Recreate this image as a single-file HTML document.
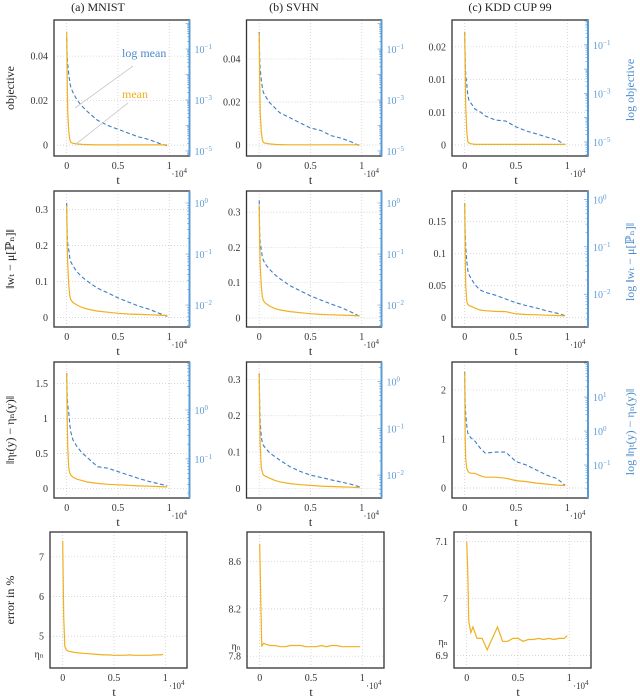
<!DOCTYPE html>
<html><head><meta charset="utf-8">
<style>
html,body{margin:0;padding:0;background:#fff;}
svg{display:block;font-family:"Liberation Serif","DejaVu Serif",serif;}
</style></head>
<body>
<svg id="fig" width="640" height="697" viewBox="0 0 640 697" xmlns="http://www.w3.org/2000/svg">
<text x="98" y="11" font-size="12" text-anchor="middle" fill="#222">(a) MNIST</text>
<text x="294" y="11" font-size="12" text-anchor="middle" fill="#222">(b) SVHN</text>
<text x="510" y="11" font-size="12" text-anchor="middle" fill="#222">(c) KDD CUP 99</text>
<text transform="translate(14,88) rotate(-90)" font-size="12" text-anchor="middle" fill="#222">objective</text>
<text transform="translate(14,259) rotate(-90)" font-size="12" text-anchor="middle" fill="#222">‖wₜ − μ[ℙₙ]‖</text>
<text transform="translate(14,430) rotate(-90)" font-size="12" text-anchor="middle" fill="#222">‖ηₜ(y) − ηₙ(y)‖</text>
<text transform="translate(14,600) rotate(-90)" font-size="12" text-anchor="middle" fill="#222">error in %</text>
<text transform="translate(634,90) rotate(-90)" font-size="12" text-anchor="middle" fill="#4a8ccc">log objective</text>
<text transform="translate(634,262) rotate(-90)" font-size="12" text-anchor="middle" fill="#4a8ccc">log ‖wₜ − μ[ℙₙ]‖</text>
<text transform="translate(634,432) rotate(-90)" font-size="12" text-anchor="middle" fill="#4a8ccc">log ‖ηₜ(y) − ηₙ(y)‖</text>
</svg>
<script>
// shared time grid (units of 1e4)
const T = [0,0.005,0.01,0.02,0.03,0.04,0.06,0.1,0.15,0.2,0.3,0.4,0.5,0.6,0.7,0.8,0.9,0.98];
const xTicks = [0,0.5,1];
const xTickLabels = ["0","0.5","1"];

// row 1: objective
const objMnistMean = [0.051,0.03,0.015,0.006,0.0025,0.0012,0.0008,0.0005,0.0003,0.0002,0.0001,0.0001,0.0001,0.0001,0.0001,0.0001,0.0001,0.0001];
const objMnistLog = [-0.57,-1.3,-1.6,-2.0,-2.3,-2.5,-2.7,-3.0,-3.25,-3.45,-3.8,-4.0,-4.15,-4.3,-4.45,-4.55,-4.7,-4.8];
const objSvhnMean = [0.052,0.03,0.015,0.006,0.0025,0.0012,0.0008,0.0005,0.0003,0.0002,0.0001,0.0001,0.0001,0.0001,0.0001,0.0001,0.0001,0.0001];
const objSvhnLog = [-0.33,-1.4,-1.8,-2.2,-2.5,-2.7,-2.85,-3.1,-3.3,-3.5,-3.7,-3.9,-4.1,-4.2,-4.4,-4.5,-4.65,-4.8];
const objKddMean = [0.0173,0.012,0.006,0.002,0.0005,0.0003,0.0002,0.0001,0.0001,0.0001,0.0001,0.0001,0.0001,0.0001,0.0001,0.0001,0.0001,0.0001];
const objKddLog = [-0.47,-1.6,-2.2,-2.65,-3.07,-3.27,-3.4,-3.65,-3.76,-3.93,-4.1,-4.14,-4.38,-4.55,-4.67,-4.8,-4.92,-5.12];
const objTicks12 = [0,0.02,0.04];
const objTickLabels12 = ["0","0.02","0.04"];
const objTicks3 = [0,0.005,0.01,0.015];
const objTickLabels3 = ["0","0.01","0.01","0.02"];
const objLogTicks = [-1,-3,-5];

// row 2: ||w_t - mu[P_n]||
const wMnistMean = [0.31,0.2,0.15,0.09,0.06,0.05,0.042,0.035,0.028,0.024,0.018,0.015,0.012,0.01,0.009,0.008,0.007,0.006];
const wMnistLog = [0,-0.63,-0.8,-0.92,-1.08,-1.15,-1.23,-1.35,-1.45,-1.53,-1.67,-1.76,-1.86,-1.94,-2.02,-2.08,-2.16,-2.22];
const wSvhnMean = [0.32,0.21,0.15,0.09,0.06,0.05,0.042,0.034,0.027,0.023,0.018,0.015,0.012,0.01,0.009,0.008,0.007,0.006];
const wSvhnLog = [0.05,-0.6,-0.78,-0.92,-1.05,-1.12,-1.2,-1.3,-1.4,-1.48,-1.62,-1.72,-1.82,-1.9,-1.98,-2.05,-2.14,-2.22];
const wKddMean = [0.179,0.1,0.05,0.025,0.021,0.019,0.018,0.015,0.012,0.011,0.0098,0.0095,0.006,0.005,0.0045,0.004,0.0035,0.003];
const wKddLog = [-0.08,-0.7,-1.0,-1.3,-1.5,-1.58,-1.66,-1.8,-1.91,-1.96,-2.02,-2.1,-2.18,-2.24,-2.29,-2.35,-2.4,-2.45];
const wTicks12 = [0,0.1,0.2,0.3];
const wTickLabels12 = ["0","0.1","0.2","0.3"];
const wTicks3 = [0,0.05,0.1,0.15];
const wTickLabels3 = ["0","0.05","0.1","0.15"];
const wLogTicks = [0,-1,-2];

// row 3: ||eta_t(y) - eta_n(y)||
const eMnistMean = [1.65,1.0,0.6,0.29,0.22,0.19,0.16,0.13,0.11,0.09,0.07,0.057,0.05,0.043,0.035,0.03,0.025,0.02];
const eMnistLog = [0.755,0.3,0.1,-0.06,-0.3,-0.45,-0.61,-0.75,-0.88,-0.97,-1.16,-1.19,-1.26,-1.33,-1.4,-1.46,-1.51,-1.55];
const eSvhnMean = [0.317,0.2,0.12,0.056,0.045,0.037,0.033,0.028,0.022,0.018,0.013,0.01,0.008,0.006,0.005,0.004,0.003,0.002];
const eSvhnLog = [0.18,-0.5,-0.85,-1.18,-1.3,-1.36,-1.42,-1.52,-1.6,-1.68,-1.82,-1.92,-2.0,-2.05,-2.1,-2.15,-2.2,-2.25];
const eKddMean = [2.35,1.0,0.6,0.4,0.35,0.32,0.3,0.3,0.25,0.22,0.22,0.2,0.15,0.13,0.1,0.08,0.06,0.05];
const eKddLog = [1.74,0.8,0.5,0.15,-0.06,-0.12,-0.2,-0.3,-0.5,-0.65,-0.62,-0.62,-0.9,-1.0,-1.15,-1.3,-1.4,-1.6];
const eTicks1 = [0,0.5,1,1.5];
const eTickLabels1 = ["0","0.5","1","1.5"];
const eTicks2 = [0,0.1,0.2,0.3];
const eTickLabels2 = ["0","0.1","0.2","0.3"];
const eTicks3 = [0,1,2];
const eTickLabels3 = ["0","1","2"];
const eLogTicks1 = [0,-1];
const eLogTicks2 = [0,-1,-2];
const eLogTicks3 = [1,0,-1];

// row 4: error in %
const errT = [0,0.01,0.02,0.03,0.04,0.06,0.1,0.15,0.2,0.25,0.3,0.35,0.4,0.45,0.5,0.55,0.6,0.65,0.7,0.75,0.8,0.85,0.9,0.95,0.98];
const errMnist = [7.4,5.5,4.75,4.68,4.65,4.62,4.6,4.58,4.57,4.56,4.55,4.54,4.53,4.53,4.52,4.52,4.52,4.53,4.52,4.52,4.52,4.52,4.53,4.53,4.54];
const errSvhn = [8.75,8.3,7.88,7.9,7.91,7.9,7.89,7.89,7.88,7.88,7.89,7.89,7.89,7.88,7.88,7.88,7.89,7.88,7.89,7.89,7.88,7.88,7.88,7.88,7.88];
const errKdd = [7.1,7.05,6.96,6.95,6.94,6.95,6.93,6.93,6.91,6.93,6.95,6.925,6.925,6.93,6.93,6.925,6.928,6.928,6.93,6.928,6.93,6.928,6.93,6.93,6.935];
const errTicks1 = [7,6,5];
const errTickLabels1 = ["7","6","5"];
const errTicks2 = [8.6,8.2,7.8];
const errTickLabels2 = ["8.6","8.2","7.8"];
const errTicks3 = [7.1,7,6.9];
const errTickLabels3 = ["7.1","7","6.9"];
const etaN = [4.55,7.885,6.925];

const NS = "http://www.w3.org/2000/svg";
const svg = document.getElementById('fig');
const ORANGE = "#f0b020", BLUE = "#3b7dc4", LBLUE = "#5b9bd5";
function mk(tag, attrs, parent){
  const e = document.createElementNS(NS, tag);
  for (const k in attrs) e.setAttribute(k, attrs[k]);
  (parent||svg).appendChild(e);
  return e;
}

function panel(p){
  const W = p.w||135.5, H = 136;
  const g = mk('g', {});
  
  
  const x = t => p.L + 12.7 + t*102.6;
  const y = v => p.top + H - (v - p.ylo)/(p.yhi - p.ylo)*H;
  const yl = lv => p.top + H - (lv - p.llo)/(p.lhi - p.llo)*H;
  xTicks.forEach((t,i)=>{
    const ln = mk('line',{x1:x(t),x2:x(t),y1:p.top,y2:p.top+H,stroke:"#c8c8c8","stroke-width":0.7,"stroke-dasharray":"1,2"},g);
    
    
    const tx = mk('text',{x:x(t),y:p.top+H+13,"font-size":10,"text-anchor":"middle",fill:"#333"},g);
    tx.textContent = xTickLabels[i];
    
    
  });
  p.yTicks.forEach((v,i)=>{
    const ln = mk('line',{x1:p.L,x2:p.L+W,y1:y(v),y2:y(v),stroke:"#c8c8c8","stroke-width":0.7,"stroke-dasharray":"1,2"},g);
    
    
    const tx = mk('text',{x:p.L-6,y:y(v)+3.5,"font-size":10,"text-anchor":"end",fill:"#333"},g);
    tx.textContent = p.yLabels[i];
    
    
  });
  if (p.eta !== undefined){
    const tx = mk('text',{x:p.L-6,y:y(p.eta)+3.5,"font-size":10,"text-anchor":"end",fill:"#333"},g);
    tx.textContent = "ηₙ";
    
    
  }
  if (p.logTicks){
    for (let d=Math.floor(p.llo); d<Math.ceil(p.lhi); d++){
      for (let m=1;m<10;m++){
        const lv = d + Math.log10(m);
        if (lv<p.llo || lv>p.lhi) continue;
        const len = m===1?4:2.5;
        const tk = mk('line',{x1:p.L+W-len,x2:p.L+W,y1:yl(lv),y2:yl(lv),stroke:LBLUE,"stroke-width":0.6},g);
        
        
      }
    }
    p.logTicks.forEach(lv=>{
      const tx = mk('text',{x:p.L+W+5,y:yl(lv)+4,"font-size":10,fill:LBLUE},g);
      tx.textContent = "10";
      const sp = mk('tspan',{dy:-4,"font-size":7},tx);
      sp.textContent = lv<0 ? "−"+(-lv) : String(lv);
      
      
    });
  }
  const pts = (ts, vs, f) => ts.map((t,i)=>x(t).toFixed(1)+","+f(vs[i]).toFixed(1)).join(" ");
  if (p.log){
    const pl = mk('polyline',{points:pts(p.t,p.log,yl),fill:"none",stroke:BLUE,"stroke-width":1.1,"stroke-dasharray":"4,2.5"},g);
    
    
  }
  const pm = mk('polyline',{points:pts(p.t,p.mean,y),fill:"none",stroke:ORANGE,"stroke-width":1.2},g);
  
  
  const fr = mk('rect',{x:p.L,y:p.top,width:W,height:H,fill:"none",stroke:"#333","stroke-width":1.3},g);
  
  
  if (p.logTicks){
    const rl = mk('line',{x1:p.L+W,x2:p.L+W,y1:p.top,y2:p.top+H,stroke:LBLUE,"stroke-width":2},g);
    
    
  }
  const tl = mk('text',{x:x(0.5),y:p.top+H+28,"font-size":12,"text-anchor":"middle",fill:"#222"},g);
  tl.textContent = "t";
  
  
  const sc = mk('text',{x:p.L+W-18,y:p.top+H+21,"font-size":9,fill:"#333"},g);
  sc.textContent = "·10";
  const ss = mk('tspan',{dy:-4,"font-size":7},sc);
  ss.textContent = "4";
  
  
}

panel({name:'panel-objective-mnist',L:54,top:20,t:T,mean:objMnistMean,log:objMnistLog,ylo:-0.0049,yhi:0.0562,llo:-5.2,lhi:0.14,yTicks:objTicks12,yLabels:objTickLabels12,logTicks:objLogTicks});
panel({name:'panel-objective-svhn',L:246.5,top:20,w:135,t:T,mean:objSvhnMean,log:objSvhnLog,ylo:-0.0051,yhi:0.0581,llo:-5.2,lhi:0.14,yTicks:objTicks12,yLabels:objTickLabels12,logTicks:objLogTicks});
panel({name:'panel-objective-kdd',L:452,top:20,w:136,t:T,mean:objKddMean,log:objKddLog,ylo:-0.00168,yhi:0.0191,llo:-5.58,lhi:0.02,yTicks:objTicks3,yLabels:objTickLabels3,logTicks:objLogTicks});

panel({name:'panel-w-mnist',L:54,top:191,t:T,mean:wMnistMean,log:wMnistLog,ylo:-0.026,yhi:0.351,llo:-2.43,lhi:0.235,yTicks:wTicks12,yLabels:wTickLabels12,logTicks:wLogTicks});
panel({name:'panel-w-svhn',L:246.5,top:191,w:135,t:T,mean:wSvhnMean,log:wSvhnLog,ylo:-0.0256,yhi:0.36,llo:-2.43,lhi:0.235,yTicks:wTicks12,yLabels:wTickLabels12,logTicks:wLogTicks});
panel({name:'panel-w-kdd',L:452,top:191,w:136,t:T,mean:wKddMean,log:wKddLog,ylo:-0.0145,yhi:0.198,llo:-2.69,lhi:0.175,yTicks:wTicks3,yLabels:wTickLabels3,logTicks:wLogTicks});

panel({name:'panel-eta-mnist',L:54,top:362,t:T,mean:eMnistMean,log:eMnistLog,ylo:-0.139,yhi:1.81,llo:-1.8,lhi:0.98,yTicks:eTicks1,yLabels:eTickLabels1,logTicks:eLogTicks1});
panel({name:'panel-eta-svhn',L:246.5,top:362,w:135,t:T,mean:eSvhnMean,log:eSvhnLog,ylo:-0.0267,yhi:0.348,llo:-2.49,lhi:0.42,yTicks:eTicks2,yLabels:eTickLabels2,logTicks:eLogTicks2});
panel({name:'panel-eta-kdd',L:452,top:362,w:136,t:T,mean:eKddMean,log:eKddLog,ylo:-0.204,yhi:2.57,llo:-1.97,lhi:2.03,yTicks:eTicks3,yLabels:eTickLabels3,logTicks:eLogTicks3});

panel({name:'panel-error-mnist',L:50,top:532,w:137,t:errT,mean:errMnist,ylo:4.2,yhi:7.625,yTicks:errTicks1,yLabels:errTickLabels1,eta:etaN[0]});
panel({name:'panel-error-svhn',L:247,top:532,w:137,t:errT,mean:errSvhn,ylo:7.70,yhi:8.85,yTicks:errTicks2,yLabels:errTickLabels2,eta:etaN[1]});
panel({name:'panel-error-kdd',L:454,top:532,w:137,t:errT,mean:errKdd,ylo:6.878,yhi:7.117,yTicks:errTicks3,yLabels:errTickLabels3,eta:etaN[2]});

const a1 = mk('line',{x1:75,y1:108,x2:133,y2:66,stroke:"#c8c8c8","stroke-width":0.8});


const a2 = mk('line',{x1:76,y1:144,x2:128,y2:103,stroke:"#c8c8c8","stroke-width":0.8});


const t1 = mk('text',{x:122,y:57,"font-size":12,fill:"#4a8ccc"});
t1.textContent = "log mean";


const t2 = mk('text',{x:122,y:98,"font-size":12,fill:ORANGE});
t2.textContent = "mean";


</script>
</body></html>
